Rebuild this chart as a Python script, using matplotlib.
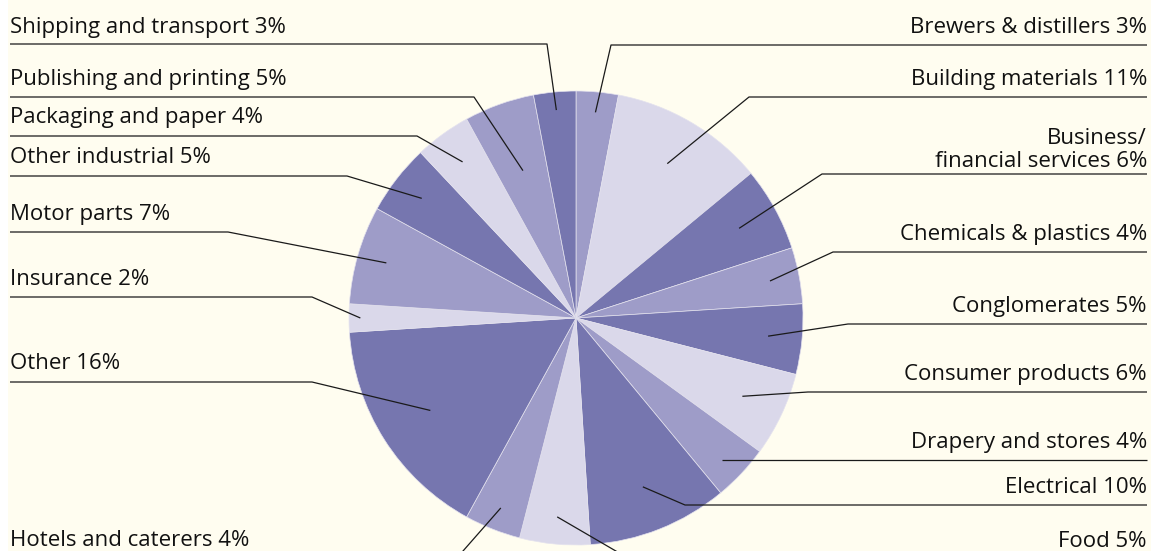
import numpy as np
import matplotlib.pyplot as plt
from matplotlib.patches import Rectangle

# --- data (clockwise from 12 o'clock) ---
sectors = ["Brewers & distillers", "Building materials", "Business/\nfinancial services",
           "Chemicals & plastics", "Conglomerates", "Consumer products",
           "Drapery and stores", "Electrical", "Food", "Hotels and caterers",
           "Other", "Insurance", "Motor parts", "Other industrial",
           "Packaging and paper", "Publishing and printing", "Shipping and transport"]
shares = [3, 11, 6, 4, 5, 6, 4, 10, 5, 4, 16, 2, 7, 5, 4, 5, 3]

# --- style / layout ---
DARK, MID, LIGHT = "#7676AF", "#9E9CC8", "#DAD8EA"
BG = "#FFFDF0"
shade = ["m", "l", "d", "m", "d", "l", "m", "d", "l", "m", "d", "l", "m", "d", "l", "m", "d"]
cmap = {"d": DARK, "m": MID, "l": LIGHT}
colors = [cmap[s] for s in shade]

W, H = 1151, 551
CX, CY, R = 576, H - 318, 227

# which side the label sits on, y of its rule (pixels from top), x where rule bends
side = ["r", "r", "r", "r", "r", "r", "r", "r", "r", "l", "l", "l", "l", "l", "l", "l", "l"]
rule_y = [45, 97, 174, 252, 324, 392, 460, 505, 600, 600, 382, 297, 232, 176, 136, 97, 44]
bend_x = [611, 749, 822, 833, 848, 808, None, 685, 700, 420, 312, 312, 228, 347, 417, 474, 547]
anchor_r = [0.91, 0.79, 0.82, 0.87, 0.85, 0.81, 0.88, 0.80, 0.88, 0.90, 0.76, 0.95, 0.87, 0.86, 0.85, 0.69, 0.92]
text_y = [33, 85, 167, 240, 312, 380, 448, 493, 547, 546, 369, 285, 220, 163, 123, 85, 33]

fig = plt.figure(figsize=(W / 100, H / 100), dpi=100)
fig.patch.set_facecolor("white")
ax = fig.add_axes([0, 0, 1, 1])
ax.add_patch(Rectangle((8, 0), W - 8, H, facecolor=BG, edgecolor="none", zorder=0))

wedges, _ = ax.pie(shares, colors=colors, startangle=90, counterclock=False,
                   center=(CX, CY), radius=R, frame=True,
                   wedgeprops=dict(edgecolor="#E4E2EE", linewidth=0.5))
ax.set_xlim(0, W)
ax.set_ylim(0, H)
ax.set_aspect("equal")
ax.axis("off")

font = "Open Sans"
for i, w in enumerate(wedges):
    mid = np.deg2rad((w.theta1 + w.theta2) / 2)
    ax_ = CX + anchor_r[i] * R * np.cos(mid)
    ay_ = CY + anchor_r[i] * R * np.sin(mid)
    ry = H - rule_y[i]
    edge = 1147 if side[i] == "r" else 10
    if bend_x[i] is None:
        xs, ys = [ax_, edge], [ry, ry]
    else:
        xs, ys = [ax_, bend_x[i], edge], [ay_, ry, ry]
    ax.plot(xs, ys, color="#1a1a1a", lw=0.9, solid_capstyle="butt", zorder=3)
    label = f"{sectors[i]} {shares[i]}%"
    ax.text(edge, H - text_y[i], label, ha="right" if side[i] == "r" else "left",
            va="baseline", fontsize=16, family=font, color="#111111",
            linespacing=1.15, zorder=4)

fig.savefig("out.png", dpi=100, facecolor=fig.get_facecolor())
